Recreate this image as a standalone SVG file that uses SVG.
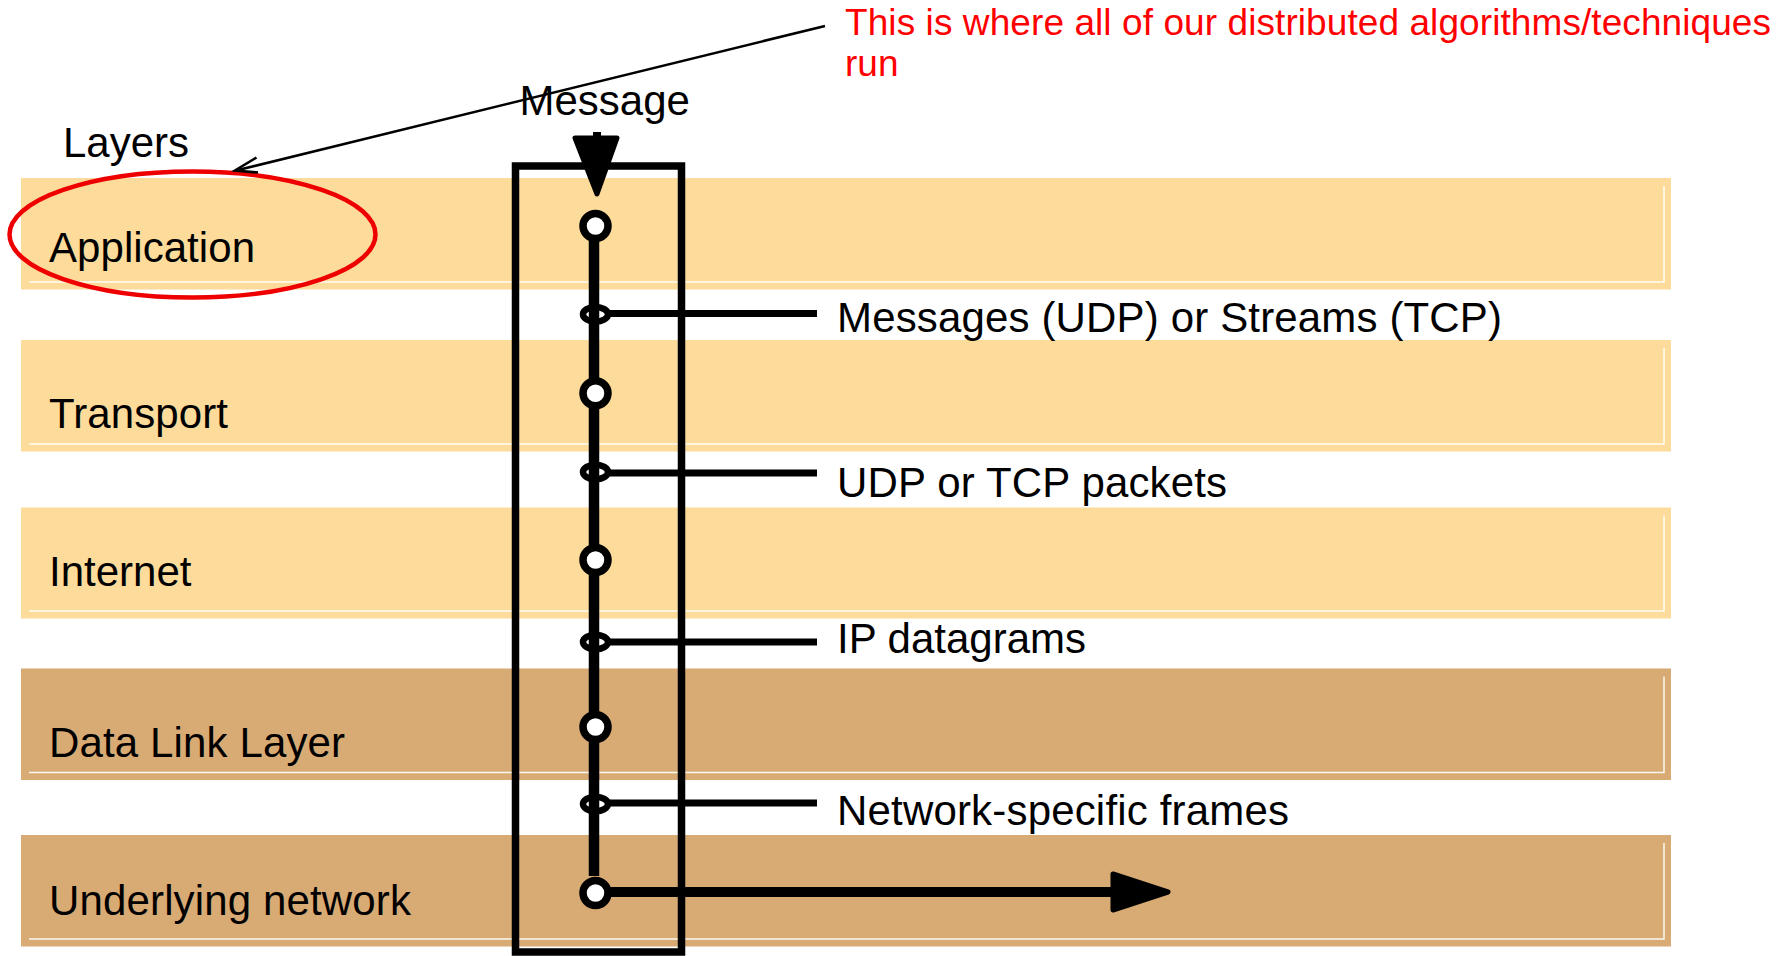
<svg xmlns="http://www.w3.org/2000/svg" width="1787" height="956" viewBox="0 0 1787 956">
<style>
text{font-family:"Liberation Sans",Arial,sans-serif;font-size:42px;fill:#000}
.red{fill:#ff0000;font-size:37px}
.light{fill:#fddb9a}
.dark{fill:#d8aa74}
.bevel{fill:none;stroke:#fff;stroke-width:1.5;opacity:0.9}
.wire{fill:none;stroke:#000;stroke-linecap:butt}
.node{fill:#fff;stroke:#000;stroke-width:7.5}
.port{fill:#fff;stroke:#000;stroke-width:6.5}
</style>
<rect width="1787" height="956" fill="#fff"/>
<g id="layer-application">
<rect class="light" x="21" y="178" width="1650" height="111.5"/>
<path class="bevel" d="M29,282 H1664 V186"/>
<text x="49" y="261.7" textLength="206">Application</text>
</g>
<g id="layer-transport">
<rect class="light" x="21" y="340" width="1650" height="111.5"/>
<path class="bevel" d="M29,444 H1664 V348"/>
<text x="49" y="428.3" textLength="179">Transport</text>
</g>
<g id="layer-internet">
<rect class="light" x="21" y="507.5" width="1650" height="111"/>
<path class="bevel" d="M29,611 H1664 V515.5"/>
<text x="49" y="585.7">Internet</text>
</g>
<g id="layer-datalink">
<rect class="dark" x="21" y="668.5" width="1650" height="111.5"/>
<path class="bevel" d="M29,772.5 H1664 V676.5"/>
<text x="49" y="757.3" textLength="296">Data Link Layer</text>
</g>
<g id="layer-network">
<rect class="dark" x="21" y="835" width="1650" height="111.5"/>
<path class="bevel" d="M29,939 H1664 V843"/>
<text x="49" y="915" textLength="362">Underlying network</text>
</g>
<g id="layers-title">
<text x="63" y="157.3">Layers</text>
</g>
<g id="highlight">
<ellipse cx="192.5" cy="234.5" rx="183" ry="63" fill="none" stroke="#ee0000" stroke-width="4.5"/>
</g>
<g id="note">
<text class="red" x="845" y="35" textLength="926">This is where all of our distributed algorithms/techniques</text>
<text class="red" x="845" y="76">run</text>
</g>
<g id="message-title">
<text x="519.5" y="115">Message</text>
</g>
<g id="stack-box">
<rect x="515.5" y="166" width="166" height="786" fill="none" stroke="#000" stroke-width="7.5"/>
</g>
<g id="connectors">
<line x1="825" y1="26" x2="236" y2="170.5" stroke="#000" stroke-width="2.6"/>
<polyline points="256.5,157.5 235,170.5 258,172.5" fill="none" stroke="#000" stroke-width="2.6" stroke-linejoin="miter"/>
<line class="wire" x1="597" y1="132" x2="597" y2="150" stroke-width="8" stroke-linecap="round"/>
<polygon points="575,138 617,138 597,194" fill="#000" stroke="#000" stroke-width="5" stroke-linejoin="round"/>
<line class="wire" x1="594" y1="226" x2="594" y2="876" stroke-width="10.5"/>
<line class="wire" x1="606" y1="313.5" x2="817" y2="313.5" stroke-width="7"/>
<line class="wire" x1="606" y1="473" x2="817" y2="473" stroke-width="7"/>
<line class="wire" x1="606" y1="642" x2="817" y2="642" stroke-width="7"/>
<line class="wire" x1="606" y1="803" x2="817" y2="803" stroke-width="7"/>
<line class="wire" x1="600" y1="892" x2="1116" y2="892" stroke-width="10"/>
<polygon points="1113,874 1168,892 1113,910" fill="#000" stroke="#000" stroke-width="5" stroke-linejoin="round"/>
</g>
<g id="stack-points">
<circle class="node" cx="595.5" cy="226" r="12.5"/>
<circle class="node" cx="595.5" cy="393.3" r="12.5"/>
<circle class="node" cx="595.5" cy="560" r="12.5"/>
<circle class="node" cx="595.5" cy="727" r="12.5"/>
<circle class="node" cx="595.5" cy="893" r="12.5"/>
<ellipse class="port" cx="595.5" cy="314.3" rx="12.5" ry="7.3"/>
<ellipse class="port" cx="595.5" cy="472" rx="12.5" ry="7.3"/>
<ellipse class="port" cx="595.5" cy="642" rx="12.5" ry="7.3"/>
<ellipse class="port" cx="595.5" cy="804" rx="12.5" ry="7.3"/>
<line class="wire" x1="594" y1="305" x2="594" y2="324" stroke-width="10.5"/>
<line class="wire" x1="594" y1="463" x2="594" y2="482" stroke-width="10.5"/>
<line class="wire" x1="594" y1="633" x2="594" y2="652" stroke-width="10.5"/>
<line class="wire" x1="594" y1="795" x2="594" y2="814" stroke-width="10.5"/>
</g>
<g id="interface-labels">
<text x="837" y="331.5" textLength="665">Messages (UDP) or Streams (TCP)</text>
<text x="837" y="497.3" textLength="390">UDP or TCP packets</text>
<text x="837" y="653.3" textLength="249">IP datagrams</text>
<text x="837" y="825" textLength="452">Network-specific frames</text>
</g>
</svg>
